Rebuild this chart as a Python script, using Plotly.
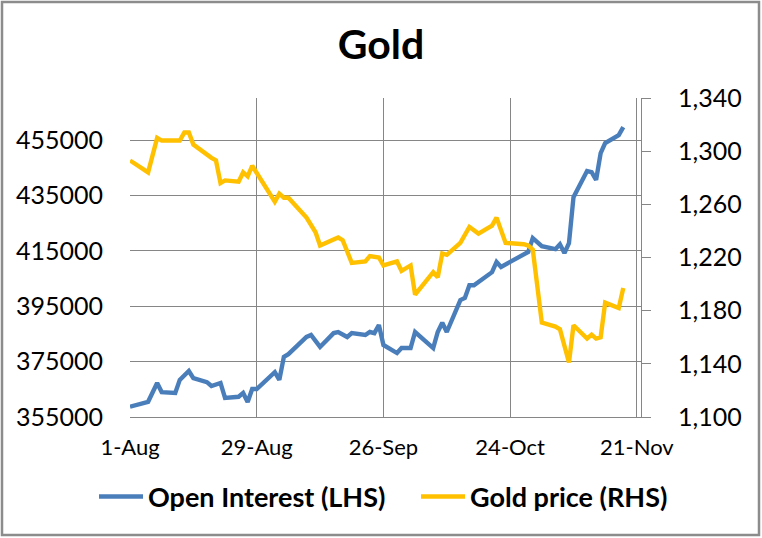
import plotly.graph_objects as go

# ---- data ----
gold_dates = ["2014-08-01","2014-08-05","2014-08-07","2014-08-08","2014-08-12","2014-08-13","2014-08-14","2014-08-15",
              "2014-08-19","2014-08-20","2014-08-21","2014-08-22","2014-08-25","2014-08-26","2014-08-27","2014-08-28",
              "2014-09-02","2014-09-03","2014-09-04","2014-09-05","2014-09-09","2014-09-10","2014-09-11","2014-09-12",
              "2014-09-16","2014-09-17","2014-09-19","2014-09-22","2014-09-23","2014-09-25","2014-09-26","2014-09-29",
              "2014-09-30","2014-10-02","2014-10-03","2014-10-07","2014-10-08","2014-10-09","2014-10-10","2014-10-13",
              "2014-10-15","2014-10-17","2014-10-20","2014-10-21","2014-10-23","2014-10-27","2014-10-28","2014-10-29",
              "2014-10-31","2014-11-03","2014-11-04","2014-11-06","2014-11-07","2014-11-10","2014-11-11","2014-11-12",
              "2014-11-13","2014-11-14","2014-11-17","2014-11-18"]
gold_price = [1293, 1284, 1310, 1308, 1308, 1314, 1314, 1305,
              1295, 1293, 1276, 1278, 1277, 1284, 1281, 1289,
              1262, 1268, 1265, 1265, 1250, 1245, 1239, 1229,
              1235, 1233, 1216, 1217, 1221, 1220, 1214, 1217,
              1210, 1214, 1192, 1209, 1205, 1223, 1222, 1231,
              1243, 1238, 1244, 1250, 1231, 1230, 1229, 1226,
              1171, 1168, 1166, 1141, 1169, 1159, 1162, 1159,
              1160, 1186, 1182, 1197]

oi_dates = ["2014-08-01","2014-08-05","2014-08-07","2014-08-08","2014-08-11","2014-08-12","2014-08-14","2014-08-15",
            "2014-08-18","2014-08-19","2014-08-21","2014-08-22","2014-08-25","2014-08-26","2014-08-27","2014-08-28",
            "2014-08-29","2014-09-02","2014-09-03","2014-09-04","2014-09-05","2014-09-09","2014-09-10","2014-09-12",
            "2014-09-15","2014-09-16","2014-09-18","2014-09-19","2014-09-22","2014-09-23","2014-09-24","2014-09-25",
            "2014-09-26","2014-09-29","2014-09-30","2014-10-02","2014-10-03","2014-10-07","2014-10-08","2014-10-09",
            "2014-10-10","2014-10-13","2014-10-14","2014-10-15","2014-10-16","2014-10-18","2014-10-20","2014-10-21",
            "2014-10-22","2014-10-24","2014-10-27","2014-10-28","2014-10-29","2014-10-31","2014-11-03","2014-11-04",
            "2014-11-05","2014-11-06","2014-11-07","2014-11-10","2014-11-11","2014-11-12","2014-11-13","2014-11-14",
            "2014-11-17","2014-11-18"]
open_interest = [358700, 360500, 367300, 364000, 363700, 368400, 371600, 369000,
                 367600, 366200, 367300, 361900, 362300, 363700, 360400, 365100,
                 365100, 371200, 368400, 376700, 377700, 383900, 384600, 380300,
                 385300, 385700, 383900, 385300, 384600, 385700, 385300, 388200,
                 381000, 378100, 379900, 379900, 385700, 379900, 385700, 389000,
                 385700, 397200, 398000, 402600, 402600, 404800, 407300, 411000,
                 409200, 411000, 413500, 414600, 419600, 416700, 415600, 417400,
                 414200, 417800, 434400, 443800, 443400, 440600, 450300, 453900,
                 456800, 459700]

x_tick_dates = ["2014-08-01", "2014-08-29", "2014-09-26", "2014-10-24", "2014-11-21"]
x_tick_labels = ["1-Aug", "29-Aug", "26-Sep", "24-Oct", "21-Nov"]
left_ticks = [355000, 375000, 395000, 415000, 435000, 455000]
right_ticks = [1100, 1140, 1180, 1220, 1260, 1300, 1340]

# ---- layout constants ----
W, H = 762, 538
ML, MR, MT, MB = 130, 121, 98, 121
GRID = "#868686"
FONT = "Lato"

fig = go.Figure()
fig.add_trace(go.Scatter(x=oi_dates, y=open_interest, mode="lines", name="Open Interest (LHS)",
                         line=dict(color="#4A7EBB", width=4.4), legend="legend"))
fig.add_trace(go.Scatter(x=gold_dates, y=gold_price, mode="lines", name="Gold price (RHS)", yaxis="y2",
                         line=dict(color="#FFC000", width=4.4), legend="legend2"))

pw, ph = W - ML - MR, H - MT - MB
bx0, bx1 = (2 - ML) / pw, (W - 3 - ML) / pw
by1, by0 = (H - MB - 2) / ph, (H - MB - (H - 3)) / ph

legend_common = dict(orientation="h", xref="container", xanchor="left",
                     yref="container", y=1 - 497 / H, yanchor="middle",
                     font=dict(size=27, family=FONT, color="black", weight="bold"),
                     itemwidth=44, bgcolor="rgba(0,0,0,0)", borderwidth=0)

fig.update_layout(
    width=W, height=H,
    margin=dict(l=ML, r=MR, t=MT, b=MB, pad=0, autoexpand=False),
    paper_bgcolor="white", plot_bgcolor="white",
    font=dict(family=FONT, color="black"),
    title=dict(text="<b>Gold</b>", x=0.5, xref="container", xanchor="center",
               y=1 - 45 / H, yref="container", yanchor="middle",
               font=dict(size=41, family=FONT, color="black")),
    xaxis=dict(type="date", range=["2014-08-01", "2014-11-21 22:00"],
               tickvals=x_tick_dates, ticktext=x_tick_labels,
               showgrid=True, gridcolor=GRID, gridwidth=1,
               showline=True, linecolor=GRID, linewidth=1,
               ticks="", tickfont=dict(size=22, family=FONT), ticklabelstandoff=11,
               zeroline=False),
    yaxis=dict(range=[355000, 470200], tickvals=left_ticks, tickformat="d",
               showgrid=True, gridcolor=GRID, gridwidth=1,
               showline=False, ticks="", zeroline=False,
               tickfont=dict(size=25, family=FONT), ticklabelstandoff=26),
    yaxis2=dict(range=[1100, 1340], tickvals=right_ticks, tickformat=",",
                overlaying="y", side="right", showgrid=False, zeroline=False,
                showline=True, linecolor=GRID, linewidth=1,
                ticks="outside", ticklen=9, tickcolor=GRID,
                tickfont=dict(size=25, family=FONT), ticklabelstandoff=22),
    legend=dict(legend_common, x=94 / W),
    legend2=dict(legend_common, x=416 / W),
    shapes=[dict(type="rect", xref="paper", yref="paper", x0=bx0, x1=bx1, y0=by0, y1=by1,
                 line=dict(color="#8C8C8C", width=2.5), fillcolor="rgba(0,0,0,0)", layer="below")],
    showlegend=True,
)

fig.write_html("out.html", config={"displayModeBar": False},
               post_script="document.body.style.margin='0';document.body.style.overflow='hidden';")
